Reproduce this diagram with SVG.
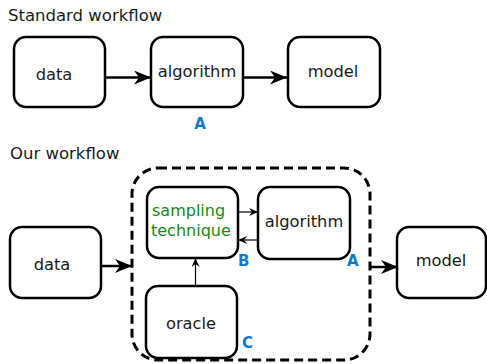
<svg xmlns="http://www.w3.org/2000/svg" width="487" height="364" viewBox="0 0 487 364">
<style>
.box{fill:#fff;stroke:#000;stroke-width:2.5}
.lbl{font-family:"DejaVu Sans",sans-serif;font-size:16.3px;fill:#1a1a1a;text-anchor:middle}
.title{font-family:"DejaVu Sans",sans-serif;font-size:16.5px;fill:#1a1a1a}
.tag{font-family:"DejaVu Sans",sans-serif;font-size:15px;font-weight:bold;fill:#0a7acc}
.grn{font-family:"DejaVu Sans",sans-serif;font-size:16px;fill:#138a13}
.thick{stroke:#000;stroke-width:2.5;fill:none}
.thin{stroke:#000;stroke-width:1.2;fill:none}
</style>
<defs>
<marker id="big" markerUnits="userSpaceOnUse" markerWidth="18" markerHeight="14" viewBox="0 0 18 14" refX="17" refY="7" orient="auto">
<path d="M0,0 L17,7 L0,14 L5,7 Z" fill="#000"/>
</marker>
<marker id="small" markerUnits="userSpaceOnUse" markerWidth="10" markerHeight="8" viewBox="0 0 10 8" refX="9" refY="4" orient="auto">
<path d="M0,0 L9,4 L0,8 L3,4 Z" fill="#000"/>
</marker>
</defs>
<text class="title" x="8" y="21">Standard workflow</text>
<text class="title" x="10" y="159">Our workflow</text>
<g id="container">
<rect x="132" y="168" width="238" height="192" rx="26" fill="none" stroke="#000" stroke-width="3" stroke-dasharray="9,5"/>
</g>
<g id="connectors">
<line class="thick" x1="105" y1="77.5" x2="151" y2="77.5" marker-end="url(#big)"/>
<line class="thick" x1="243" y1="77.5" x2="287" y2="77.5" marker-end="url(#big)"/>
<line class="thick" x1="101" y1="266" x2="132" y2="266" marker-end="url(#big)"/>
<line class="thick" x1="370" y1="267" x2="398" y2="267" marker-end="url(#big)"/>
<line class="thin" x1="238" y1="212" x2="258" y2="212" marker-end="url(#small)"/>
<line class="thin" x1="258" y1="240" x2="238" y2="240" marker-end="url(#small)"/>
<line class="thin" x1="195.5" y1="286" x2="195.5" y2="258" marker-end="url(#small)"/>
</g>
<g id="data1"><rect class="box" x="14" y="37" width="91" height="70" rx="12"/><text class="lbl" x="54" y="80">data</text></g>
<g id="algorithm1"><rect class="box" x="151" y="37" width="92" height="70" rx="12"/><text class="lbl" x="197" y="77">algorithm</text></g>
<g id="model1"><rect class="box" x="288" y="37" width="92" height="70" rx="12"/><text class="lbl" x="333" y="77">model</text></g>
<text class="tag" x="200" y="129" text-anchor="middle">A</text>
<g id="data2"><rect class="box" x="10" y="227" width="91" height="71" rx="12"/><text class="lbl" x="52" y="270">data</text></g>
<g id="sampling"><rect class="box" x="147" y="187" width="91" height="71" rx="12"/><text class="grn" x="152" y="216">sampling</text><text class="grn" x="151" y="236">technique</text></g>
<g id="algorithm2"><rect class="box" x="258" y="187" width="92" height="72" rx="12"/><text class="lbl" x="304" y="227">algorithm</text></g>
<g id="oracle"><rect class="box" x="146" y="286" width="91" height="72" rx="12"/><text class="lbl" x="191" y="329">oracle</text></g>
<g id="model2"><rect class="box" x="397" y="227" width="89" height="71" rx="12"/><text class="lbl" x="441" y="266">model</text></g>
<text class="tag" x="238" y="266">B</text>
<text class="tag" x="347" y="266">A</text>
<text class="tag" x="242" y="348">C</text>
</svg>
